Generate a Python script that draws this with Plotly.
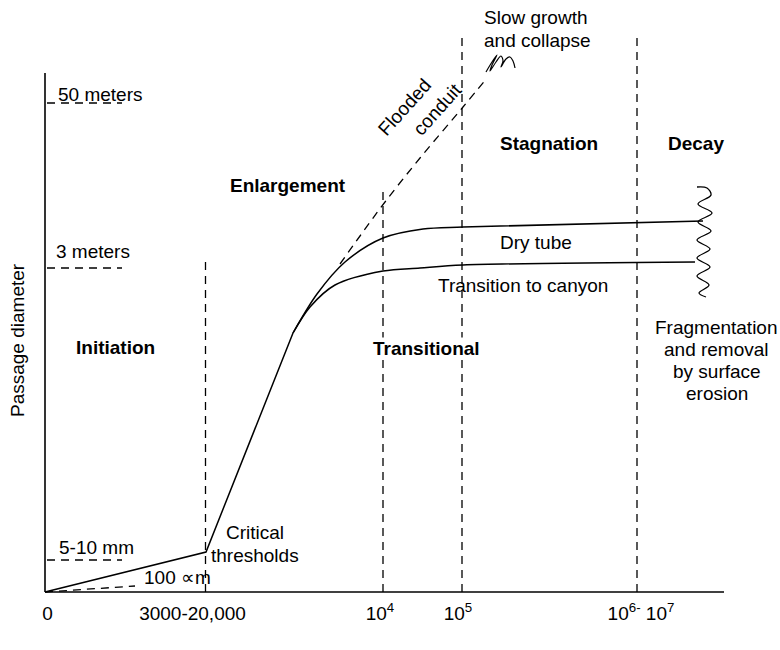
import plotly.graph_objects as go

# Schematic frame: x runs along the time axis, y is height above it.
time_axis_x = [0, 679]
diam_axis_y = [0, 519]

# Reference diameters marked on the vertical axis (dashed stubs)
ref_names = ["50 meters", "3 meters", "5-10 mm"]
ref_levels = [489, 324, 32]
ref_stub = [2, 77]

# 100 micron initial opening
micro_x = [0, 90]
micro_y = [0, 6]

# Phase boundaries along the time axis (x, top of dashed line)
boundary_x = [160.5, 338, 417, 592]
boundary_top = [334, 402, 557, 557]

# Conduit growth: initiation then rapid enlargement
growth_x = [0, 161, 248]
growth_y = [0, 40, 259]

# Dry tube branch (starts where the enlargement line splits)
dry_x = [248, 272, 300, 338, 378, 418, 658]
dry_y = [259, 298, 330, 354, 363, 365, 371]

# Transition-to-canyon branch
canyon_x = [248, 265, 290, 338, 375, 418, 650]
canyon_y = [259, 285, 307, 321, 324, 327, 330]

# Flooded conduit continuing growth
flood_x = [295, 315, 340, 375, 418, 442]
flood_y = [328, 356, 390, 434, 485, 514]

# Scribble: slow growth and collapse
scrib_x = [441, 447, 452, 447, 445, 451, 456, 458, 456, 461, 465, 468, 470]
scrib_y = [520, 530, 537, 527, 521, 530, 536, 531, 525, 533, 535, 531, 524]

# Wavy edge: fragmentation
wave_x = [652, 662, 666, 653, 667, 653, 666, 652, 665, 652, 665, 652, 664, 654, 661]
wave_y = [405, 404, 397, 388, 379, 370, 361, 352, 343, 334, 325, 316, 307, 299, 295]

# Time axis labels
tick_pos = [2.5, 147.5, 335, 413, 596]
tick_text = ["0", "3000-20,000", "10<sup>4</sup>", "10<sup>5</sup>",
             "10<sup>6-</sup> 10<sup>7</sup>"]

FONT = "Liberation Sans, Arial, Helvetica, sans-serif"
FS = 19
DASH = "8px,6px"

fig = go.Figure()


def line(xs, ys, dash=None, width=1.4, shape="linear", smoothing=1.0):
    fig.add_trace(go.Scatter(
        x=xs, y=ys, mode="lines",
        line=dict(color="black", width=width, dash=dash, shape=shape, smoothing=smoothing),
        hoverinfo="skip", showlegend=False))


# axes
line(time_axis_x, [0, 0], width=1.6)
line([0, 0], diam_axis_y, width=1.6)

# reference stubs
for lvl in ref_levels:
    line(ref_stub, [lvl, lvl], dash=DASH, width=1.3)
line(micro_x, micro_y, dash=DASH, width=1.3)

# phase boundaries
for bx, bt in zip(boundary_x, boundary_top):
    line([bx, bx], [0, bt], dash=DASH, width=1.3)

# curves
line(growth_x, growth_y, width=1.5)
line(dry_x, dry_y, width=1.5, shape="spline", smoothing=0.9)
line(canyon_x, canyon_y, width=1.5, shape="spline", smoothing=0.9)
line(flood_x, flood_y, dash=DASH, width=1.3, shape="spline")
line(scrib_x, scrib_y, width=1.2, shape="spline")
line(wave_x, wave_y, width=1.3, shape="spline")


def label(text, x, y, bold=False, xanchor="center", angle=0, bg=None, size=FS):
    fig.add_annotation(
        x=x, y=y, text=f"<b>{text}</b>" if bold else text,
        showarrow=False, xanchor=xanchor, yanchor="middle", textangle=angle,
        font=dict(family=FONT, size=size, color="black"),
        bgcolor=bg, borderpad=0)


label("Slow growth", 438, 575, xanchor="left")
label("and collapse", 438, 552, xanchor="left")
label("Flooded", 359, 485, angle=-48)
label("conduit", 392, 483, angle=-48)
label("50 meters", 12, 498, xanchor="left")
label("3 meters", 10, 341, xanchor="left")
label("5-10 mm", 13, 45, xanchor="left")
label("100 \u221dm", 98, 15, xanchor="left")
label("Critical", 209.5, 60)
label("thresholds", 210, 37)
label("Initiation", 70.5, 245, bold=True)
label("Enlargement", 242.5, 407, bold=True)
label("Transitional", 381, 244, bold=True, bg="white")
label("Stagnation", 504, 449, bold=True)
label("Decay", 651, 449, bold=True)
label("Dry tube", 491, 350)
label("Transition to canyon", 478, 307)
for txt, yy in zip(["Fragmentation", "and removal", "by surface", "erosion"],
                   [265, 242.5, 220.5, 198.5]):
    label(txt, 671.5, yy)
label("Passage diameter", -28, 252, angle=-90)
label("Time (years)", 351, -47)

fig.update_layout(
    width=780, height=650,
    margin=dict(l=0, r=0, t=0, b=50),
    paper_bgcolor="white", plot_bgcolor="white",
    xaxis=dict(range=[-45, 735], showgrid=False, zeroline=False, showline=False,
               tickmode="array", tickvals=tick_pos, ticktext=tick_text,
               ticks="", tickfont=dict(family=FONT, size=FS, color="black"),
               fixedrange=True),
    yaxis=dict(range=[-8, 592], showgrid=False, zeroline=False, showline=False,
               showticklabels=False, fixedrange=True),
)

fig.write_html("out.html")
